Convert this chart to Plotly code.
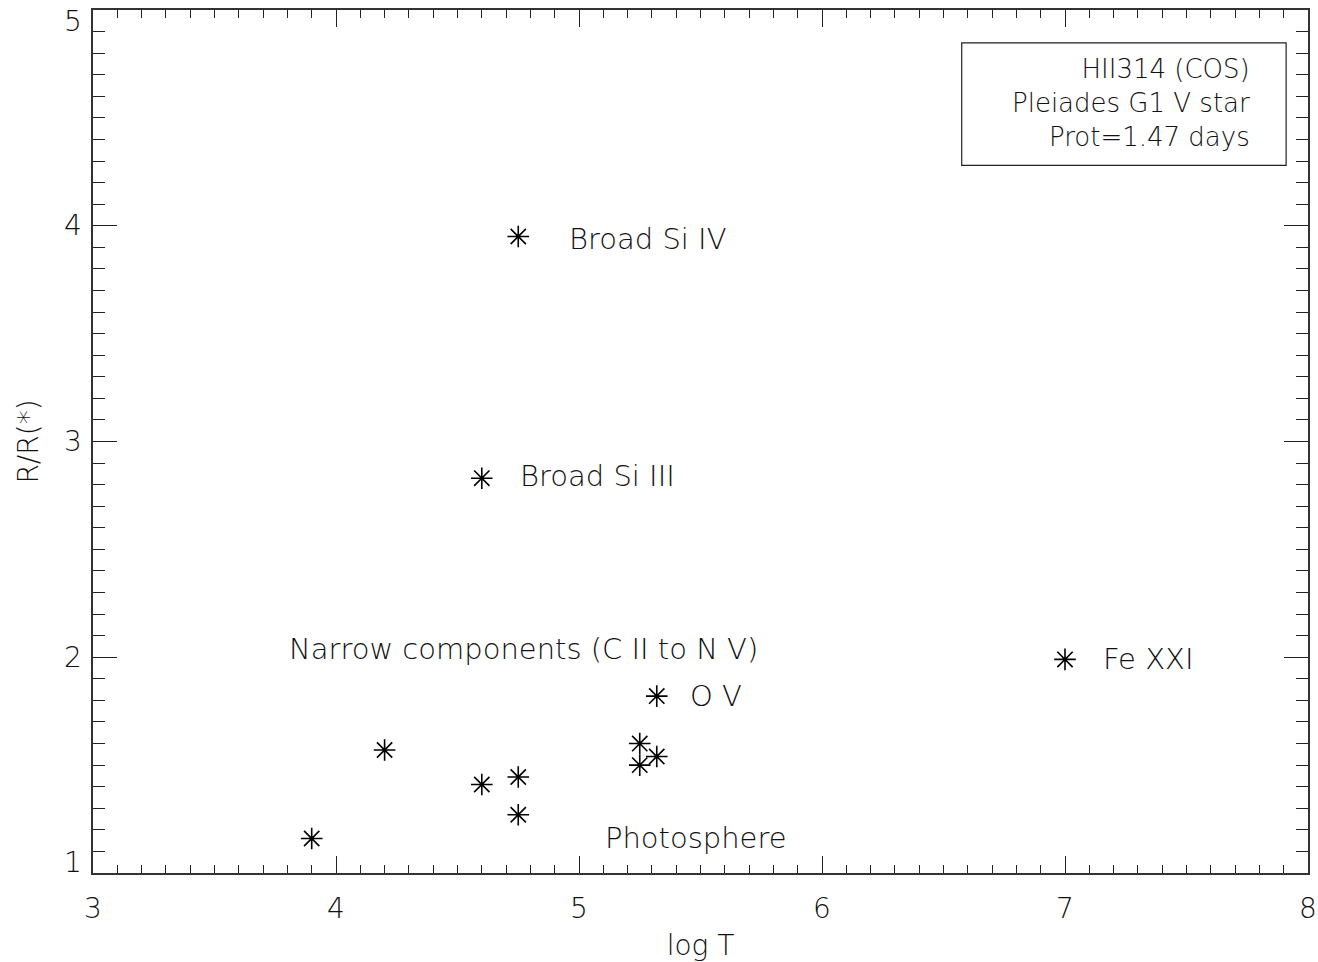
import plotly.graph_objects as go

# Data points (log T, R/R*)
logT = [3.90, 4.20, 4.60, 4.75, 4.75, 4.75, 4.60, 5.25, 5.25, 5.32, 5.32, 7.00]
r_ratio = [1.16, 1.57, 1.41, 1.445, 1.27, 3.95, 2.83, 1.60, 1.50, 1.54, 1.82, 1.99]

# Label texts and their positions (data coordinates)
label_text = ["Broad Si IV", "Broad Si III", "Narrow components (C II to N V)",
              "O V", "Fe XXI", "Photosphere"]
label_x = [4.95, 4.75, 3.80, 5.45, 7.15, 5.10]
label_y = [3.94, 2.84, 2.04, 1.82, 1.99, 1.16]

info_lines = ["HII314 (COS)", "Pleiades G1 V star", "Prot=1.47 days"]

x_ticks = [3, 4, 5, 6, 7, 8]
y_ticks = [1, 2, 3, 4, 5]

FONT = "DejaVu Sans"
FS = 28
TXT = dict(family=FONT, size=FS, color="#111", weight=300)
LBL_TXT = dict(family=FONT, size=29, color="#111", weight=300)
BOX_TXT = dict(family=FONT, size=26, color="#111", weight=300)

fig = go.Figure()
fig.add_trace(go.Scatter(
    x=logT, y=r_ratio, mode="markers",
    marker=dict(symbol="asterisk-open", size=18, color="black",
                line=dict(color="black", width=1.6)),
    showlegend=False, hoverinfo="skip"))

for t, xx, yy in zip(label_text, label_x, label_y):
    fig.add_annotation(x=xx, y=yy, text=t, showarrow=False, xanchor="left",
                       yanchor="middle", font=LBL_TXT)

fig.add_shape(type="rect", xref="paper", yref="paper", x0=0.715, x1=0.982,
              y0=0.820, y1=0.962, line=dict(color="#222", width=1.2))
fig.add_annotation(xref="paper", yref="paper", x=0.954, y=0.892,
                   text="<br>".join(info_lines), showarrow=False, align="right",
                   xanchor="right", yanchor="middle", font=BOX_TXT)

# y tick labels (IDL-style: end labels kept inside the axis span)
for v in y_ticks:
    if v == y_ticks[0]:
        anchor, ys = "bottom", -8
    elif v == y_ticks[-1]:
        anchor, ys = "top", 7
    else:
        anchor, ys = "middle", 0
    fig.add_annotation(xref="paper", yref="y", x=0, y=v, text=str(v), showarrow=False,
                       xanchor="right", yanchor=anchor, xshift=-9, yshift=ys, font=TXT)

axis_common = dict(showgrid=False, zeroline=False, showline=True, linecolor="#333",
                   linewidth=1.5, mirror="allticks", ticks="inside", tickcolor="#222",
                   tickwidth=1.3, automargin=False, tickfont=TXT)

fig.update_xaxes(range=[3, 8], tickvals=x_ticks, ticklen=17, ticklabelstandoff=10,
                 minor=dict(dtick=0.1, ticks="inside", ticklen=8, tickcolor="#222", tickwidth=1.2),
                 title=dict(text="log T", font=TXT, standoff=12),
                 **axis_common)
fig.update_yaxes(range=[1, 5], tickvals=y_ticks, ticklen=24, showticklabels=False,
                 minor=dict(dtick=0.1, ticks="inside", ticklen=12, tickcolor="#222", tickwidth=1.2),
                 title=dict(text="R/R(*)", font=TXT, standoff=44),
                 **axis_common)

fig.update_layout(width=1318, height=962, margin=dict(l=93, r=10, t=10, b=89),
                  paper_bgcolor="white", plot_bgcolor="white")

fig.write_html("out.html")
